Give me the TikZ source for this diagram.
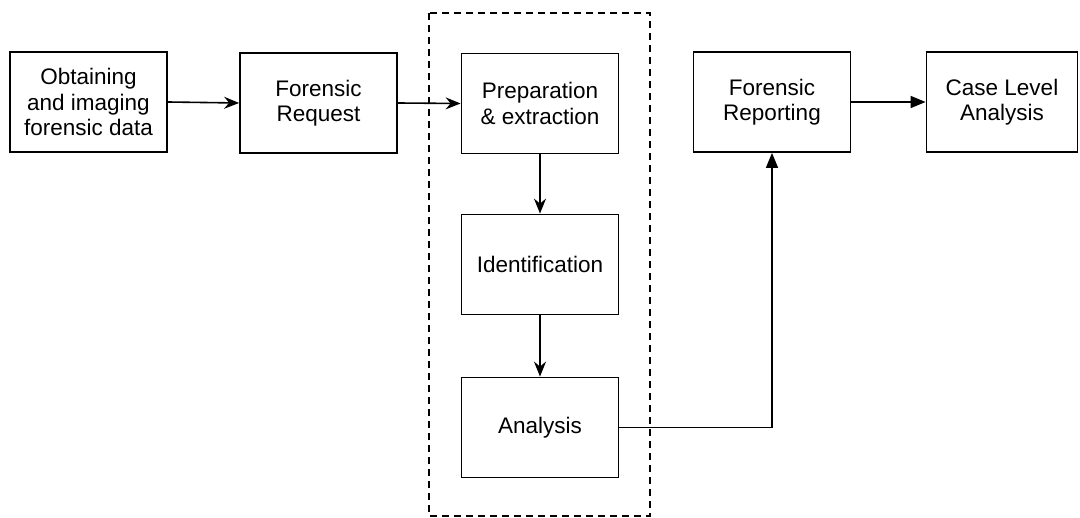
\documentclass[tikz,border=0pt]{standalone}
\usepackage{fontspec}
\setmainfont{Liberation Sans}
\usetikzlibrary{arrows.meta}
\begin{document}
\begin{tikzpicture}[x=1pt,y=-1pt,
  stepbox/.style={draw,line width=1.8pt,minimum width=157pt,minimum height=100pt,
    inner sep=0pt,align=center,font=\fontsize{22.5}{25.5}\selectfont},
  flow/.style={line width=1.6pt,-{Stealth[length=15pt,width=12pt,inset=5pt]}},
  flowfilled/.style={line width=1.6pt,-{Triangle[length=15pt,width=12pt]}},
  group/.style={draw,line width=1.6pt,dash pattern=on 7pt off 5pt}]
  \useasboundingbox (0,0) rectangle (1080,518);
  % dashed group around the examination steps
  \draw[group] (429,13) rectangle (650,516);
  % process boxes
  \node[stepbox] (obtain) at (88.5,102) {Obtaining\\and imaging\\forensic data};
  \node[stepbox] (request) at (318.5,103) {Forensic\\Request};
  \node[stepbox] (prep) at (540,103.5) {Preparation\\\& extraction};
  \node[stepbox] (ident) at (540,264.5) {Identification};
  \node[stepbox] (analysis) at (540,427.5) {Analysis};
  \node[stepbox] (report) at (772,102) {Forensic\\Reporting};
  \node[stepbox,minimum width=151pt] (case) at (1002,102) {Case Level\\Analysis};
  % connectors
  \draw[flow] (obtain.east) -- (request.west);
  \draw[flow] (request.east) -- (prep.west);
  \draw[flow] (prep.south) -- (ident.north);
  \draw[flow] (ident.south) -- (analysis.north);
  \draw[flowfilled] (analysis.east) -| (report.south);
  \draw[flowfilled] (report.east) -- (case.west);
\end{tikzpicture}
\end{document}
